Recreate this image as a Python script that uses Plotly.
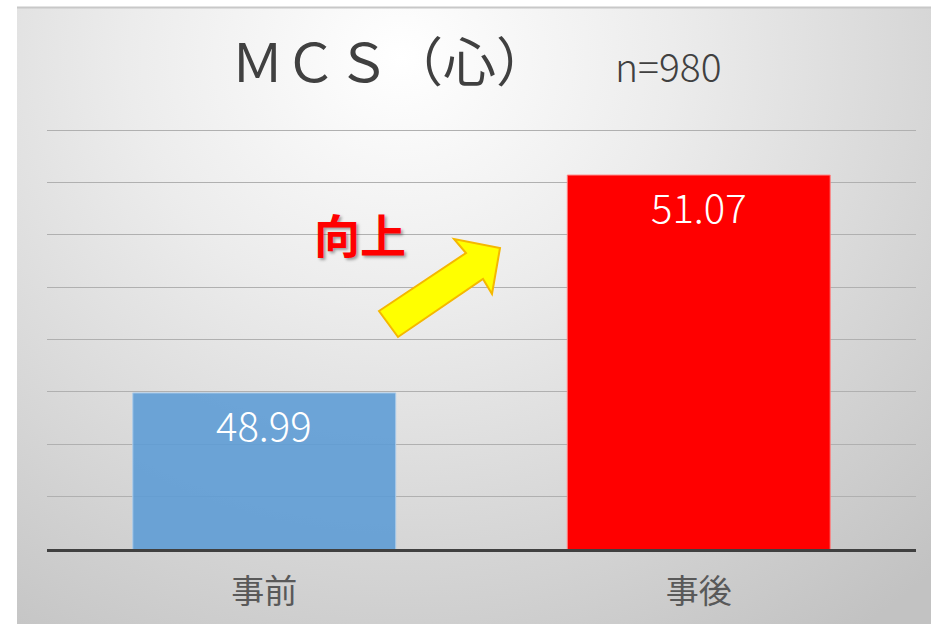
import base64
import plotly.graph_objects as go

categories = ["事前", "事後"]
values = [48.99, 51.07]
bar_colors = ["rgba(91,155,213,0.88)", "#ff0000"]
bar_line_colors = ["#a9cbeb", "#ff8080"]
title_text = "ＭＣＳ（心）"
n_text = "n=980"
arrow_label = "向上"

W, H = 931, 624
L, R, T, B = 47, 15, 129, 75
pw, ph = W - L - R, H - T - B

def px(x):
    return (x - L) / pw

def py(y):
    return (H - B - y) / ph

svg = (
    '<svg xmlns="http://www.w3.org/2000/svg" width="914" height="616" viewBox="0 0 914 616" preserveAspectRatio="none">'
    '<defs><radialGradient id="g" cx="0.42" cy="0.08" r="0.85" gradientUnits="objectBoundingBox" '
    'gradientTransform="translate(0.42 0.08) scale(1 1.35) translate(-0.42 -0.08)">'
    '<stop offset="0" stop-color="#ffffff"/><stop offset="0.35" stop-color="#ececec"/>'
    '<stop offset="1" stop-color="#c2c2c2"/></radialGradient></defs>'
    '<rect width="914" height="616" fill="url(#g)"/></svg>'
)
src = "data:image/svg+xml;base64," + base64.b64encode(svg.encode()).decode()

fig = go.Figure()
fig.add_trace(go.Bar(
    x=categories, y=values,
    marker=dict(color=bar_colors, line=dict(color=bar_line_colors, width=1)),
    width=0.605, hoverinfo="skip",
))

annotations = []
for c, v in zip(categories, values):
    annotations.append(dict(
        x=c, y=v, xref="x", yref="y", text=f"{v:.2f}", showarrow=False,
        yanchor="middle", yshift=-31,
        font=dict(family="Noto Sans CJK JP", size=40, color="white", weight=300),
    ))
annotations.append(dict(
    x=px(390), y=py(59), xref="paper", yref="paper", text=title_text, showarrow=False,
    xanchor="center", yanchor="middle",
    font=dict(family="Noto Sans CJK JP", size=53, color="#404040"),
))
annotations.append(dict(
    x=px(668), y=py(65), xref="paper", yref="paper", text=n_text, showarrow=False,
    xanchor="center", yanchor="middle",
    font=dict(family="Noto Sans CJK JP", size=39, color="#404040", weight=300),
))
annotations.append(dict(
    x=px(360), y=py(233), xref="paper", yref="paper", text="<b>" + arrow_label + "</b>",
    showarrow=False, xanchor="center", yanchor="middle",
    font=dict(family="Noto Sans CJK JP", size=46, color="#ff0000",
              shadow="2px 2px 3px rgba(0,0,0,0.35)"),
))

pts = [(379, 311), (466, 253), (454, 239), (500, 248), (492, 294), (483, 279), (398, 337)]
path = "M " + " L ".join(f"{px(a):.5f},{py(b):.5f}" for a, b in pts) + " Z"

shapes = [
    dict(type="path", xref="paper", yref="paper", path=path,
         fillcolor="#ffff00", line=dict(color="#f5b800", width=2), layer="above"),
    dict(type="line", xref="paper", yref="paper", x0=px(17), x1=px(931), y0=py(7.5), y1=py(7.5),
         line=dict(color="#c8c8c8", width=2)),
]

fig.update_layout(
    width=W, height=H, autosize=False,
    margin=dict(l=L, r=R, t=T, b=B),
    paper_bgcolor="white", plot_bgcolor="rgba(0,0,0,0)",
    showlegend=False,
    images=[dict(source=src, xref="paper", yref="paper",
                 x=px(17), y=py(8), sizex=px(931) - px(17), sizey=py(8) - py(624),
                 xanchor="left", yanchor="top", sizing="stretch", layer="below")],
    annotations=annotations, shapes=shapes,
    xaxis=dict(showline=True, linecolor="#404040", linewidth=3, showgrid=False,
               tickfont=dict(family="Noto Sans CJK JP", size=33, color="#595959"),
               ticks="", ticklabelstandoff=11, fixedrange=True),
    yaxis=dict(range=[47.5, 51.51], tick0=47.5, dtick=0.5, showticklabels=False, showgrid=True,
               gridcolor="#b0b0b0", gridwidth=1, zeroline=False, showline=False,
               ticks="", fixedrange=True),
)

fig.write_html("out.html", post_script="document.body.style.margin='0';document.body.style.overflow='hidden';",
               config={"displayModeBar": False})
